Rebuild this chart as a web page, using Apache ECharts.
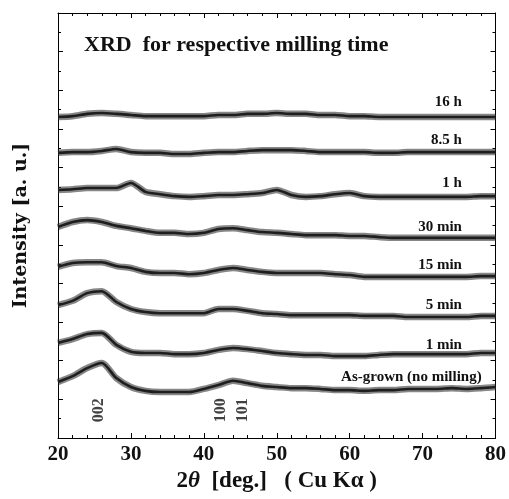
<!DOCTYPE html>
<html>
<head>
<meta charset="utf-8">
<script src="https://cdn.jsdelivr.net/npm/echarts@6/dist/echarts.min.js"></script>
<style>html,body{margin:0;padding:0;background:#fff;}#c{width:509px;height:499px;}</style>
</head>
<body>
<div id="c"></div>
<script>
// 2theta grid (deg)
const twoTheta = [20,22,24,26,28,30,32,34,36,38,40,42,44,46,48,50,52,54,56,58,60,62,64,66,68,70,72,74,76,78,80];
// Intensities (arbitrary units, offset per trace)
const asGrown = [14.5,16.0,18.1,19.4,15.5,13.2,12.2,11.9,11.9,11.9,12.7,13.7,14.8,14.2,13.5,13.2,12.9,12.9,12.7,12.4,12.4,12.2,12.4,12.4,12.7,12.7,12.7,12.9,12.7,12.9,13.2];
const min1 = [24.6,25.6,26.9,27.2,24.1,22.3,22.0,22.0,21.7,21.7,22.0,22.8,23.3,23.0,22.5,22.0,21.7,21.5,21.5,21.2,21.2,21.2,21.5,21.7,21.7,21.7,21.7,21.7,21.7,22.0,22.0];
const min5 = [34.4,35.5,37.5,38.0,35.2,33.4,32.6,32.3,32.3,32.3,32.3,33.4,33.4,32.9,32.3,32.1,31.8,31.8,31.8,31.8,31.8,31.6,31.6,31.6,31.3,31.3,31.3,31.3,31.3,31.6,31.6];
const min15 = [44.3,45.3,45.5,45.5,44.5,44.0,43.0,42.7,42.7,42.4,42.7,43.5,44.0,43.5,43.0,42.7,42.7,42.7,42.7,42.4,42.2,41.7,41.7,41.7,41.7,41.7,41.7,41.7,41.7,41.9,41.9];
const min30 = [54.6,55.9,56.4,55.9,54.9,54.3,53.6,53.1,53.1,52.8,53.1,54.1,54.3,53.8,53.3,53.1,52.8,52.5,52.5,52.5,52.3,52.3,52.0,51.8,51.8,51.8,51.8,51.8,51.8,51.8,51.8];
const h1 = [64.2,64.4,64.7,64.7,64.7,66.0,63.7,63.1,62.6,62.4,62.6,62.9,62.9,63.1,63.4,64.2,62.9,62.4,62.6,63.1,63.4,62.6,62.4,62.4,62.4,62.4,62.4,62.4,62.4,62.6,62.6];
const h8_5 = [73.8,74.0,74.0,74.3,74.8,74.0,73.8,73.8,73.5,73.5,73.8,74.0,74.0,74.3,74.5,74.5,74.5,74.3,74.0,74.0,74.0,74.0,73.8,73.8,74.0,74.0,74.0,74.0,74.0,74.0,74.0];
const h16 = [83.1,83.3,83.9,84.1,83.9,83.6,83.3,83.3,83.3,83.3,83.3,83.6,83.6,83.9,83.9,84.1,83.9,83.9,83.6,83.6,83.3,83.3,83.1,83.1,83.1,83.1,83.1,83.1,83.1,83.1,83.1];

const traceNames = ['As-grown (no milling)','1 min','5 min','15 min','30 min','1 h','8.5 h','16 h'];
const traceValues = [asGrown,min1,min5,min15,min30,h1,h8_5,h16];
// label anchor (right edge) [2theta, intensity]
const labelX = [78.1,75.4,75.4,75.4,75.4,75.4,75.4,75.4];
const labelY = [15.8,24.1,34.4,44.8,54.6,66.0,77.1,87.0];
// reflection indices
const peakNames = ['002','100','101'];
const peakX = [25.6,42.4,45.3];
const peakY = [7.2,7.2,7.2];

const FONT = "'Liberation Serif','Times New Roman',serif";
const chart = echarts.init(document.getElementById('c'), null, {renderer:'canvas'});

const series = [];
traceValues.forEach((vals, k) => {
  const pts = twoTheta.map((x,i)=>[x, vals[i]]);
  // noisy band
  series.push({
    type:'line', smooth:0.25, symbol:'none', silent:true, data: pts,
    lineStyle:{color:'rgba(55,55,55,0.6)', width:6.5}
  });
  // core trace
  series.push({
    type:'line', name: traceNames[k], smooth:0.25, symbol:'none', data: pts,
    lineStyle:{color:'#1e1e1e', width:2.6},
    markPoint:{
      symbol:'circle', symbolSize:0, silent:true,
      label:{show:true, position:'left', distance:0, formatter: traceNames[k],
        fontFamily:FONT, fontWeight:'bold', fontSize:15, color:'#111'},
      data:[{coord:[labelX[k], labelY[k]]}]
    }
  });
});
series.push({
  type:'scatter', symbolSize:0, silent:true,
  data: peakX.map((x,i)=>({value:[x, peakY[i]], name: peakNames[i]})),
  label:{show:true, position:'inside', rotate:90, formatter: p=>p.name,
    fontFamily:FONT, fontWeight:'bold', fontSize:16, color:'#111'}
});

const axisCommon = {
  axisLine:{show:true, onZero:false, lineStyle:{color:'#000', width:1}},
  axisTick:{show:true, inside:true, length:5, lineStyle:{color:'#000'}},
  minorTick:{show:true, splitNumber:5, length:3, lineStyle:{color:'#000'}},
  splitLine:{show:false}
};

chart.setOption({
  backgroundColor:'#fff',
  animation:false,
  title:{text:'XRD  for respective milling time', left:79, top:29,
    textStyle:{fontFamily:FONT, fontWeight:'bold', fontSize:22, color:'#111'}},
  grid:{left:58, right:12, top:13, bottom:61},
  xAxis:[
    Object.assign({}, axisCommon, {type:'value', min:20, max:80, interval:10, position:'bottom',
      axisLabel:{fontFamily:FONT, fontWeight:'bold', fontSize:21, color:'#111', margin:6},
      name:'2{i|θ}  [deg.]   ( Cu K{g|α} )', nameLocation:'middle', nameGap:30,
      nameTextStyle:{fontFamily:FONT, fontWeight:'bold', fontSize:23, color:'#111',
        rich:{i:{fontFamily:FONT, fontWeight:'bold', fontStyle:'italic', fontSize:23, color:'#111'},
              g:{fontFamily:FONT, fontWeight:'bold', fontSize:23, color:'#111'}}}}),
    Object.assign({}, axisCommon, {type:'value', min:20, max:80, interval:10, position:'top',
      axisLabel:{show:false}})
  ],
  yAxis:[
    Object.assign({}, axisCommon, {type:'value', min:0, max:110, interval:10, position:'left',
      minorTick:{show:true, splitNumber:2, length:3, lineStyle:{color:'#000'}},
      axisLabel:{show:false},
      name:'Intensity [a. u.]', nameLocation:'middle', nameGap:27, nameRotate:90,
      nameTextStyle:{fontFamily:"'DejaVu Serif',serif", fontWeight:'bold', fontSize:19, color:'#111'}}),
    Object.assign({}, axisCommon, {type:'value', min:0, max:110, interval:10, position:'right',
      minorTick:{show:true, splitNumber:2, length:3, lineStyle:{color:'#000'}},
      axisLabel:{show:false}})
  ],
  series: series
});
</script>
</body>
</html>
